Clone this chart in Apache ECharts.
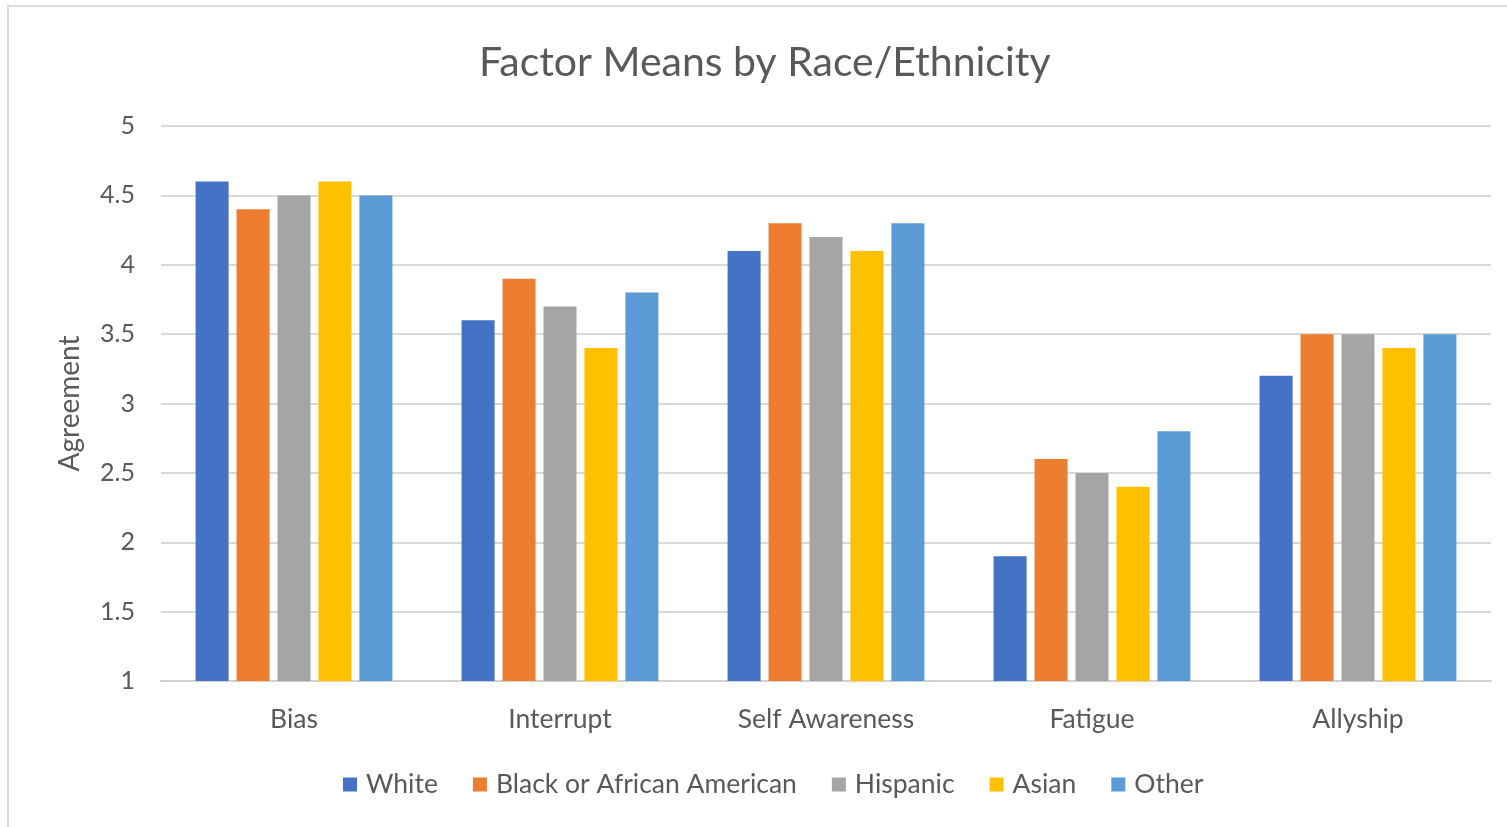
<!DOCTYPE html>
<html>
<head>
<meta charset="utf-8">
<script src="https://cdn.jsdelivr.net/npm/echarts@6/dist/echarts.min.js"></script>
<style>
html,body{margin:0;padding:0;background:#fff;}
#chart{width:1507px;height:827px;}
#frame{position:absolute;left:7px;top:5px;width:1600px;height:900px;border-left:2px solid #DADADA;border-top:2px solid #DADADA;pointer-events:none;}
</style>
</head>
<body>
<div id="chart"></div>
<div id="frame"></div>
<script>
const categories = ['Bias', 'Interrupt', 'Self Awareness', 'Fatigue', 'Allyship'];
const seriesNames = ['White', 'Black or African American', 'Hispanic', 'Asian', 'Other'];
const white    = [4.6, 3.6, 4.1, 1.9, 3.2];
const black    = [4.4, 3.9, 4.3, 2.6, 3.5];
const hispanic = [4.5, 3.7, 4.2, 2.5, 3.5];
const asian    = [4.6, 3.4, 4.1, 2.4, 3.4];
const other    = [4.5, 3.8, 4.3, 2.8, 3.5];
const colors = ['#4472C4', '#ED7D31', '#A5A5A5', '#FFC000', '#5B9BD5'];

const allValues = [white, black, hispanic, asian, other];
const font = 'Lato';
const chart = echarts.init(document.getElementById('chart'));
chart.setOption({
  animation: false,
  color: colors,
  title: {
    text: 'Factor Means by Race/Ethnicity',
    left: 474,
    top: 37,
    padding: [5, 5, 5, 5],
    textStyle: {fontFamily: font, fontSize: 41, fontWeight: 'normal', color: '#595959'}
  },
  legend: {
    data: seriesNames,
    left: 343,
    top: 771,
    padding: 0,
    icon: 'rect',
    itemWidth: 14,
    itemHeight: 14,
    itemGap: 35,
    textStyle: {fontFamily: font, fontSize: 26.5, color: '#595959', padding: [0, 0, 0, 4]}
  },
  grid: {left: 161, right: 16, top: 126, bottom: 146, containLabel: false},
  xAxis: {
    type: 'category',
    data: categories,
    axisTick: {show: false},
    axisLine: {lineStyle: {color: '#D0D0D0', width: 2}},
    axisLabel: {fontFamily: font, fontSize: 26.5, color: '#595959', margin: 25}
  },
  yAxis: {
    type: 'value',
    min: 1, max: 5, interval: 0.5,
    name: 'Agreement',
    nameLocation: 'middle',
    nameGap: 77,
    nameTextStyle: {fontFamily: font, fontSize: 28, color: '#595959'},
    axisLine: {show: false},
    axisTick: {show: false},
    axisLabel: {fontFamily: font, fontSize: 25, color: '#595959', margin: 26},
    splitLine: {lineStyle: {color: '#D9D9D9', width: 2}}
  },
  series: seriesNames.map((n, i) => ({
    name: n,
    type: 'bar',
    data: allValues[i],
    barGap: '24%',
    barCategoryGap: '26%'
  }))
});
</script>
</body>
</html>
